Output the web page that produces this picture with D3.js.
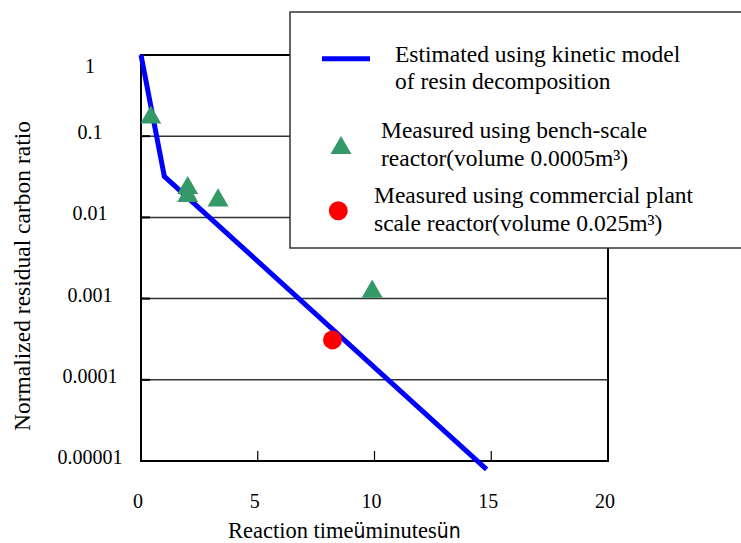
<!DOCTYPE html>
<html>
<head>
<meta charset="utf-8">
<script src="https://cdn.jsdelivr.net/npm/d3@7"></script>
<style>
  body { margin: 0; background: #fff; }
  svg { display: block; }
  text { font-family: 'Liberation Serif', 'Times New Roman', serif; fill: #000; }
  .moji { font-family: 'Liberation Sans Narrow', 'DejaVu Sans Condensed', sans-serif; fill: #000; }
</style>
</head>
<body>
<div id="chart"></div>
<script>
// model curve (minutes, ratio)
var modelTime = [0, 1, 14.8]
var modelRatio = [1, 0.032, 0.0000079]

// bench-scale reactor measurements
var benchTime = [0.42, 2.0, 2.0, 3.3, 9.9]
var benchRatio = [0.17, 0.023, 0.0184, 0.0162, 0.00122]

// commercial plant measurement
var plantTime = [8.2]
var plantRatio = [0.00031]

var xTicks = [0, 5, 10, 15, 20]
var yTicks = [1, 0.1, 0.01, 0.001, 0.0001, 0.00001]
var yTickLabels = ['1', '0.1', '0.01', '0.001', '0.0001', '0.00001']

var margin = { top: 55, left: 141, right: 133, bottom: 82 }
var width = 741 - margin.left - margin.right
var height = 543 - margin.top - margin.bottom

var svg = d3
  .select('#chart')
  .append('svg')
  .attr('width', 741)
  .attr('height', 543)

var g = svg
  .append('g')
  .attr('transform', 'translate(' + margin.left + ',' + margin.top + ')')

var xScale = d3.scaleLinear().domain([0, 20]).range([0, width])
var yScale = d3.scaleLog().domain([0.00001, 1]).range([height, 0])

// gridlines
g.selectAll('.grid')
  .data(yTicks.slice(1, -1))
  .enter()
  .append('line')
  .attr('class', 'grid')
  .attr('x1', 0)
  .attr('x2', width)
  .attr('y1', d => yScale(d))
  .attr('y2', d => yScale(d))
  .attr('stroke', '#333')
  .attr('stroke-width', 1.5)

// short inward ticks on left axis
g.selectAll('.ytick')
  .data(yTicks.slice(1, -1))
  .enter()
  .append('line')
  .attr('x1', 0)
  .attr('x2', 9)
  .attr('y1', d => yScale(d))
  .attr('y2', d => yScale(d))
  .attr('stroke', '#000')
  .attr('stroke-width', 2)

// x ticks, pointing up
g.selectAll('.xtick')
  .data(xTicks.slice(1, -1))
  .enter()
  .append('line')
  .attr('x1', d => xScale(d))
  .attr('x2', d => xScale(d))
  .attr('y1', height)
  .attr('y2', height - 10)
  .attr('stroke', '#000')
  .attr('stroke-width', 1.2)

// frame
g.append('rect')
  .attr('x', 0)
  .attr('y', 0)
  .attr('width', width)
  .attr('height', height)
  .attr('fill', 'none')
  .attr('stroke', '#000')
  .attr('stroke-width', 2)

// tick labels
g.selectAll('.ylabel')
  .data(yTicks)
  .enter()
  .append('text')
  .attr('class', 'ylabel')
  .attr('x', -51)
  .attr('y', d => Math.max(yScale(d) + 3, 18))
  .attr('text-anchor', 'middle')
  .attr('font-size', 20)
  .text((d, i) => yTickLabels[i])

g.selectAll('.xlabel')
  .data(xTicks)
  .enter()
  .append('text')
  .attr('class', 'xlabel')
  .attr('x', d => xScale(d) - 3)
  .attr('y', height + 47)
  .attr('text-anchor', 'middle')
  .attr('font-size', 20)
  .text(d => d)

// axis titles
var xTitle = g
  .append('text')
  .attr('x', 228 - margin.left)
  .attr('y', height + 77)
  .attr('font-size', 22.5)
xTitle.append('tspan').text('Reaction time')
xTitle.append('tspan').attr('class', 'moji').attr('font-size', 21).text('ü')
xTitle.append('tspan').text('minutes')
xTitle.append('tspan').attr('class', 'moji').attr('font-size', 21).text('ün')

g.append('text')
  .attr('transform', 'translate(' + (30 - margin.left) + ',' + (276 - margin.top) + ') rotate(-90)')
  .attr('text-anchor', 'middle')
  .attr('font-size', 23.5)
  .text('Normalized residual carbon ratio')

// model line
var line = d3
  .line()
  .x(d => xScale(d[0]))
  .y(d => yScale(d[1]))

g.append('path')
  .datum(d3.zip(modelTime, modelRatio))
  .attr('d', line)
  .attr('fill', 'none')
  .attr('stroke', '#0000ff')
  .attr('stroke-width', 5)

// measured points
var triangle = d3.symbol().type(d3.symbolTriangle).size(190)

g.selectAll('.bench')
  .data(d3.zip(benchTime, benchRatio))
  .enter()
  .append('path')
  .attr('class', 'bench')
  .attr('d', triangle)
  .attr('transform', d => 'translate(' + xScale(d[0]) + ',' + yScale(d[1]) + ')')
  .attr('fill', '#339966')

g.selectAll('.plant')
  .data(d3.zip(plantTime, plantRatio))
  .enter()
  .append('circle')
  .attr('class', 'plant')
  .attr('cx', d => xScale(d[0]))
  .attr('cy', d => yScale(d[1]))
  .attr('r', 9.5)
  .attr('fill', '#ff0000')

// legend
var legend = svg.append('g').attr('transform', 'translate(290,12)')

legend
  .append('rect')
  .attr('width', 470)
  .attr('height', 236)
  .attr('fill', '#fff')
  .attr('stroke', '#333')
  .attr('stroke-width', 1.5)

legend
  .append('line')
  .attr('x1', 32)
  .attr('x2', 80)
  .attr('y1', 46.7)
  .attr('y2', 46.7)
  .attr('stroke', '#0000ff')
  .attr('stroke-width', 5)

legend
  .append('path')
  .attr('d', triangle)
  .attr('transform', 'translate(51,136)')
  .attr('fill', '#339966')

legend
  .append('circle')
  .attr('cx', 48.3)
  .attr('cy', 198.7)
  .attr('r', 9.5)
  .attr('fill', '#ff0000')

var legendText = [
  { x: 105, y: 50, t: 'Estimated using kinetic model' },
  { x: 105, y: 77, t: 'of resin decomposition' },
  { x: 91, y: 125.5, t: 'Measured using bench-scale' },
  { x: 91, y: 154, t: 'reactor(volume 0.0005m³)' },
  { x: 84, y: 190.5, t: 'Measured using commercial plant' },
  { x: 84, y: 219, t: 'scale reactor(volume 0.025m³)' }
]

legend
  .selectAll('.ltext')
  .data(legendText)
  .enter()
  .append('text')
  .attr('x', d => d.x)
  .attr('y', d => d.y)
  .attr('font-size', 23.5)
  .text(d => d.t)
</script>
</body>
</html>
